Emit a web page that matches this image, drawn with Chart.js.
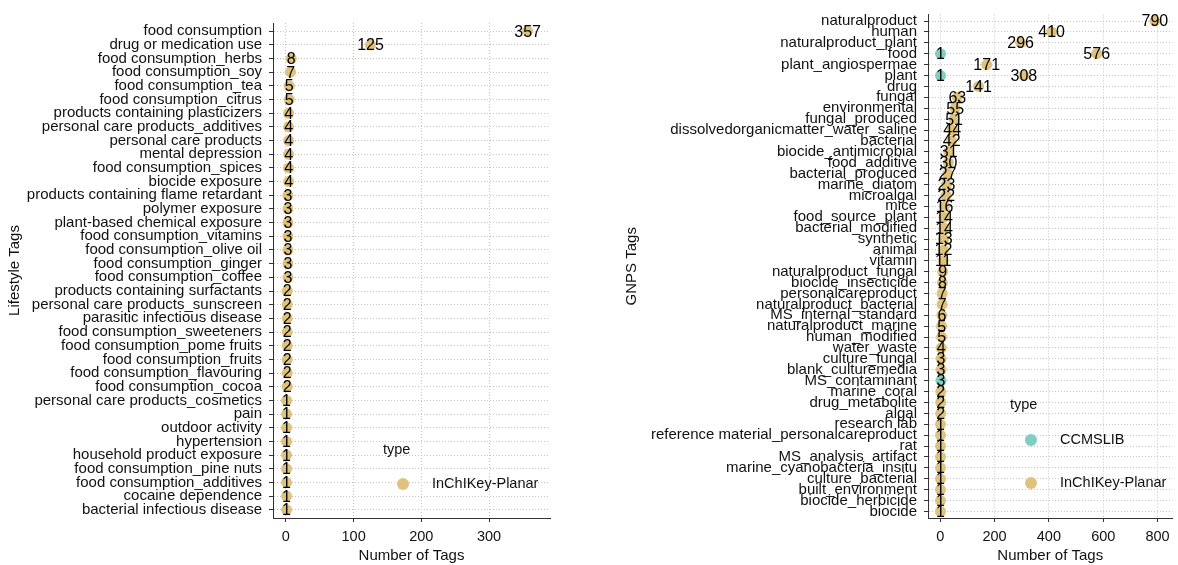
<!DOCTYPE html>
<html>
<head>
<meta charset="utf-8">
<script src="https://cdn.jsdelivr.net/npm/chart.js@4.4.1/dist/chart.umd.min.js"></script>
<style>
  html, body { margin: 0; padding: 0; background: #fff; }
  body { width: 1178px; height: 565px; position: relative; overflow: hidden; }
  .box { position: absolute; top: 0; height: 565px; }
  #leftBox { left: 0; width: 560px; }
  #rightBox { left: 600px; width: 578px; }
</style>
</head>
<body>
<div class="box" id="leftBox"><canvas id="lifestyleChart" width="560" height="565"></canvas></div>
<div class="box" id="rightBox"><canvas id="gnpsChart" width="578" height="565"></canvas></div>
<script>
const seriesNames = ["CCMSLIB", "InChIKey-Planar"];
const seriesColors = ["#80CDC1", "#DFC27D"];

const lifestyleTags = [
  "food consumption", "drug or medication use", "food consumption_herbs", "food consumption_soy",
  "food consumption_tea", "food consumption_citrus", "products containing plasticizers",
  "personal care products_additives", "personal care products", "mental depression",
  "food consumption_spices", "biocide exposure", "products containing flame retardant",
  "polymer exposure", "plant-based chemical exposure", "food consumption_vitamins",
  "food consumption_olive oil", "food consumption_ginger", "food consumption_coffee",
  "products containing surfactants", "personal care products_sunscreen", "parasitic infectious disease",
  "food consumption_sweeteners", "food consumption_pome fruits", "food consumption_fruits",
  "food consumption_flavouring", "food consumption_cocoa", "personal care products_cosmetics",
  "pain", "outdoor activity", "hypertension", "household product exposure",
  "food consumption_pine nuts", "food consumption_additives", "cocaine dependence",
  "bacterial infectious disease",
];
const lifestyleInchikey = [
  357, 125, 8, 7, 5, 5, 4, 4, 4, 4, 4, 4, 3, 3, 3, 3, 3, 3, 3,
  2, 2, 2, 2, 2, 2, 2, 2, 1, 1, 1, 1, 1, 1, 1, 1, 1,
];
const lifestyleXTicks = [0, 100, 200, 300];

const gnpsTags = [
  "naturalproduct", "human", "naturalproduct_plant", "food", "plant_angiospermae", "plant",
  "drug", "fungal", "environmental", "fungal_produced", "dissolvedorganicmatter_water_saline",
  "bacterial", "biocide_antimicrobial", "food_additive", "bacterial_produced", "marine_diatom",
  "microalgal", "mice", "food_source_plant", "bacterial_modified", "synthetic", "animal",
  "vitamin", "naturalproduct_fungal", "biocide_insecticide", "personalcareproduct",
  "naturalproduct_bacterial", "MS_internal_standard", "naturalproduct_marine", "human_modified",
  "water_waste", "culture_fungal", "blank_culturemedia", "MS_contaminant", "marine_coral",
  "drug_metabolite", "algal", "research lab", "reference material_personalcareproduct", "rat",
  "MS_analysis_artifact", "marine_cyanobacteria_insitu", "culture_bacterial",
  "built_environment", "biocide_herbicide", "biocide",
];
const gnpsInchikey = [
  790, 410, 296, 576, 171, 308, 141, 63, 55, 51, 44, 42, 31, 30, 27, 23, 22, 16, 14, 14,
  13, 12, 11, 9, 8, 7, 7, 6, 5, 5, 4, 3, 3, null, 2, 2, 2, 1, 1, 1, 1, 1, 1, 1, 1, 1,
];
const gnpsCcmslib = [
  null, null, null, 1, null, 1, null, null, null, null, null, null, null, null, null, null,
  null, null, null, null, null, null, null, null, null, null, null, null, null, null, null,
  null, null, 3, null, null, null, null, null, null, null, null, null, null, null, null,
];
const gnpsXTicks = [0, 200, 400, 600, 800];

const FONT = "'Liberation Sans', Arial, sans-serif";
const TEXT = "#111";

function toPoints(values) {
  const pts = [];
  values.forEach((v, i) => {
    if (v !== null) pts.push({ x: v, y: i });
  });
  return pts;
}

// value text centred on every dot, drawn after all dots
const valueLabels = {
  id: "valueLabels",
  afterDatasetsDraw(chart) {
    const ctx = chart.ctx;
    ctx.save();
    ctx.font = "16px " + FONT;
    ctx.fillStyle = "#000";
    ctx.textAlign = "center";
    ctx.textBaseline = "middle";
    chart.data.datasets.forEach((ds, di) => {
      chart.getDatasetMeta(di).data.forEach((el, j) => {
        ctx.fillText(String(ds.data[j].x), el.x, el.y + 1);
      });
    });
    ctx.restore();
  },
};

// ggplot style legend inside the panel
const insideLegend = {
  id: "insideLegend",
  afterDraw(chart, args, opts) {
    const ctx = chart.ctx;
    ctx.save();
    ctx.font = "14.5px " + FONT;
    ctx.fillStyle = TEXT;
    ctx.textBaseline = "middle";
    ctx.textAlign = "left";
    ctx.fillText("type", opts.x, opts.y);
    chart.data.datasets.forEach((ds, i) => {
      const y = opts.y + opts.first + i * opts.gap;
      ctx.beginPath();
      ctx.arc(opts.x + opts.dot, y, 6, 0, Math.PI * 2);
      ctx.fillStyle = ds.backgroundColor;
      ctx.fill();
      ctx.fillStyle = TEXT;
      ctx.fillText(ds.label, opts.x + opts.text, y);
    });
    ctx.restore();
  },
};

function makeChart(canvasId, cfg) {
  const canvas = document.getElementById(canvasId);
  if (!canvas) return null;

  return new Chart(canvas.getContext("2d"), {
    type: "scatter",
    data: { datasets: cfg.datasets },
    options: {
      responsive: false,
      animation: false,
      layout: { padding: { top: cfg.top, right: cfg.right, left: 0, bottom: 0 } },
      elements: { point: { radius: 5.5, hoverRadius: 5.5, borderWidth: 0 } },
      plugins: {
        legend: { display: false },
        tooltip: { enabled: false },
        insideLegend: cfg.legend,
      },
      scales: {
        x: {
          type: "linear",
          min: cfg.xMin,
          max: cfg.xMax,
          afterBuildTicks: (s) => { s.ticks = cfg.xTicks.map((v) => ({ value: v })); },
          afterFit: (s) => { s.height = 47; },
          ticks: { color: TEXT, font: { family: FONT, size: 14.5 }, padding: 6 },
          grid: { color: "#c4c4c4", lineWidth: 1, tickColor: "#333", tickLength: 4 },
          border: { display: true, color: "#333", width: 1, dash: [1, 2] },
          title: {
            display: true, text: "Number of Tags", color: TEXT,
            font: { family: FONT, size: 15 }, padding: { top: 0, bottom: 0 },
          },
        },
        y: {
          type: "linear",
          reverse: true,
          min: -0.6,
          max: cfg.tags.length - 0.4,
          afterBuildTicks: (s) => { s.ticks = cfg.tags.map((_, i) => ({ value: i })); },
          afterFit: (s) => { s.width = cfg.yWidth; },
          ticks: {
            autoSkip: false,
            color: TEXT,
            font: { family: FONT, size: 15, lineHeight: 1 },
            padding: 7,
            callback: (v) => cfg.tags[v],
          },
          grid: { color: "#c4c4c4", lineWidth: 1, tickColor: "#333", tickLength: 4 },
          border: { display: true, color: "#333", width: 1, dash: [1, 2] },
          title: {
            display: true, text: cfg.yTitle, color: TEXT,
            font: { family: FONT, size: 15 }, padding: { top: cfg.titlePad, bottom: 0 },
          },
        },
      },
    },
    plugins: [valueLabels, insideLegend],
  });
}

makeChart("lifestyleChart", {
  tags: lifestyleTags,
  yTitle: "Lifestyle Tags",
  datasets: [
    { label: seriesNames[1], data: toPoints(lifestyleInchikey), backgroundColor: seriesColors[1] },
  ],
  xMin: -19, xMax: 390, xTicks: lifestyleXTicks,
  top: 23, right: 10, yWidth: 273, titlePad: 6,
  legend: { x: 383, y: 450, first: 34, gap: 43, dot: 20, text: 49 },
});

makeChart("gnpsChart", {
  tags: gnpsTags,
  yTitle: "GNPS Tags",
  datasets: [
    { label: seriesNames[0], data: toPoints(gnpsCcmslib), backgroundColor: seriesColors[0] },
    { label: seriesNames[1], data: toPoints(gnpsInchikey), backgroundColor: seriesColors[1] },
  ],
  xMin: -45, xMax: 855, xTicks: gnpsXTicks,
  top: 13, right: 2, yWidth: 328, titlePad: 23,
  legend: { x: 410, y: 405, first: 35, gap: 43, dot: 21, text: 50 },
});
</script>
</body>
</html>
